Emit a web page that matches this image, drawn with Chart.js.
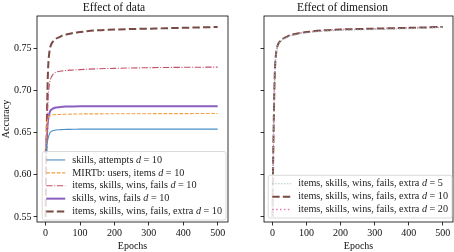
<!DOCTYPE html>
<html><head><meta charset="utf-8">
<script src="https://cdn.jsdelivr.net/npm/chart.js@4.4.1/dist/chart.umd.min.js"></script>
<style>
html,body{margin:0;padding:0;background:#fff;width:454px;height:252px;overflow:hidden}
canvas{position:absolute;top:0}
#c1{left:0}
#c2{left:232px}
</style></head><body>
<canvas id="c1" width="232" height="252"></canvas>
<canvas id="c2" width="222" height="252"></canvas>
<script>
// ---- data ----
const epochs = [0,2,4,6,8,10,13,16,20,25,30,40,50,60,80,100,150,200,300,400,500];
const skillsAttempts = [0.625,0.630,0.636,0.641,0.644,0.647,0.650,0.651,0.652,0.6525,0.653,0.6533,0.6535,0.6537,0.6538,0.654,0.654,0.654,0.654,0.654,0.654];
const mirtb = [0.630,0.645,0.658,0.665,0.668,0.6695,0.670,0.6705,0.671,0.6711,0.6712,0.6714,0.6715,0.6716,0.6718,0.672,0.6721,0.6722,0.6723,0.6724,0.6725];
const itemsSkillsWinsFails = [0.600,0.630,0.660,0.680,0.695,0.704,0.711,0.715,0.718,0.720,0.7215,0.7225,0.723,0.7235,0.724,0.7245,0.7255,0.726,0.7268,0.7272,0.7275];
const skillsWinsFails = [0.625,0.635,0.648,0.660,0.667,0.671,0.675,0.677,0.678,0.679,0.6795,0.680,0.6805,0.6807,0.6809,0.681,0.681,0.681,0.681,0.681,0.681];
const extraD10 = [0.550,0.620,0.670,0.710,0.732,0.742,0.750,0.754,0.757,0.759,0.761,0.763,0.765,0.766,0.768,0.769,0.771,0.772,0.773,0.774,0.775];
const extraD5 = [0.550,0.618,0.668,0.709,0.731,0.741,0.749,0.753,0.756,0.758,0.760,0.762,0.764,0.765,0.767,0.768,0.770,0.771,0.772,0.773,0.7745];
const extraD20 = [0.550,0.621,0.671,0.711,0.732,0.742,0.750,0.754,0.757,0.759,0.761,0.763,0.765,0.766,0.768,0.769,0.771,0.772,0.773,0.774,0.775];
const yTicks = [0.55,0.60,0.65,0.70,0.75];
const xTicks = [0,100,200,300,400,500];
const leftLabels = ['skills, attempts','MIRTb: users, items','items, skills, wins, fails','skills, wins, fails','items, skills, wins, fails, extra'];
const leftDims = [10,10,10,10,10];
const rightLabels = ['items, skills, wins, fails, extra','items, skills, wins, fails, extra','items, skills, wins, fails, extra'];
const rightDims = [5,10,20];
const titles = ['Effect of data','Effect of dimension'];

const FONT = "'Liberation Serif', 'DejaVu Serif', serif";

function pts(ys){ return epochs.map((x,i)=>({x:x,y:ys[i]})); }

const framePlugin = {
  id:'frame',
  afterDatasetsDraw(chart){
    const a = chart.chartArea, ctx = chart.ctx;
    ctx.save();
    ctx.strokeStyle = '#000'; ctx.lineWidth = 0.8;
    ctx.strokeRect(a.left, a.top, a.right-a.left, a.bottom-a.top);
    ctx.restore();
  }
};

const boxLegend = {
  id:'boxLegend',
  afterDraw(chart, args, opts){
    const ctx = chart.ctx, a = chart.chartArea;
    const ds = chart.data.datasets;
    const fs = opts.fontSize, rowH = opts.rowH, handle = opts.handle;
    ctx.save();
    const normal = fs + 'px ' + FONT, ital = 'italic ' + fs + 'px ' + FONT;
    let maxW = 0;
    const parts = ds.map((d,i)=>{
      ctx.font = normal; const w1 = ctx.measureText(opts.labels[i] + ' ').width;
      ctx.font = ital; const w2 = ctx.measureText('d').width;
      ctx.font = normal; const w3 = ctx.measureText(' = ' + opts.dims[i]).width;
      maxW = Math.max(maxW, w1+w2+w3);
      return [w1,w2,w3];
    });
    const padX = 4, gap = 7;
    const w = padX + handle + gap + maxW + padX;
    const h = rowH * ds.length + 4;
    const x0 = a.right - opts.offR - w, y0 = a.bottom - opts.offB - h;
    ctx.beginPath();
    if (ctx.roundRect) ctx.roundRect(x0, y0, w, h, 2); else ctx.rect(x0,y0,w,h);
    ctx.fillStyle = 'rgba(255,255,255,0.8)'; ctx.fill();
    ctx.strokeStyle = '#d0d0d0'; ctx.lineWidth = 0.8; ctx.stroke();
    ds.forEach((d,i)=>{
      const cy = y0 + 2 + rowH*(i+0.5);
      ctx.save();
      ctx.strokeStyle = d.borderColor; ctx.lineWidth = d.borderWidth;
      ctx.setLineDash(d.borderDash || []);
      ctx.beginPath(); ctx.moveTo(x0+padX, cy); ctx.lineTo(x0+padX+handle, cy); ctx.stroke();
      ctx.restore();
      let tx = x0 + padX + handle + gap;
      ctx.fillStyle = '#222'; ctx.textBaseline = 'middle'; ctx.textAlign = 'left';
      ctx.font = normal; ctx.fillText(opts.labels[i] + ' ', tx, cy);
      tx += parts[i][0];
      ctx.font = ital; ctx.fillText('d', tx, cy);
      tx += parts[i][1];
      ctx.font = normal; ctx.fillText(' = ' + opts.dims[i], tx, cy);
    });
    ctx.restore();
  }
};

function makeOptions(idx, yW, showYLabels, legendOpts){
  return {
    responsive:false, animation:false, devicePixelRatio:1,
    layout:{padding:{left:0,right: idx===0?4:1,top:0,bottom:0}},
    plugins:{
      legend:{display:false}, tooltip:{enabled:false},
      title:{display:true, text:titles[idx], color:'#111', font:{family:FONT,size:11.5,weight:'normal',lineHeight:1.2}, padding:{top:1,bottom:1.2}},
      boxLegend: legendOpts
    },
    elements:{point:{radius:0}, line:{tension:0.3, cubicInterpolationMode:'monotone'}},
    scales:{
      x:{type:'linear', min:-25, max:530,
         afterBuildTicks(s){ s.ticks = xTicks.map(v=>({value:v})); },
         afterFit(s){ s.height = 30; },
         grid:{display:true, drawOnChartArea:false, drawTicks:true, tickLength:3.5, color:'#000', lineWidth:0.8},
         border:{display:false},
         ticks:{color:'#111', font:{family:FONT,size:10}, padding:2, maxRotation:0, callback:v=>String(v)},
         title:{display:true, text:'Epochs', color:'#111', font:{family:FONT,size:10}, padding:{top:0,bottom:0}}
      },
      y:{type:'linear', min:0.544, max:0.788,
         afterBuildTicks(s){ s.ticks = yTicks.map(v=>({value:v})); },
         afterFit(s){ s.width = yW; },
         grid:{display:true, drawOnChartArea:false, drawTicks:true, tickLength:3.5, color:'#000', lineWidth:0.8},
         border:{display:false},
         ticks:{color:'#111', font:{family:FONT,size:10}, padding:2, callback:v=> showYLabels ? v.toFixed(2) : ''},
         title:{display:showYLabels, text:'Accuracy', color:'#111', font:{family:FONT,size:10}, padding:{top:0,bottom:0}}
      }
    }
  };
}

new Chart(document.getElementById('c1'), {
  type:'line',
  data:{datasets:[
    {data:pts(skillsAttempts), borderColor:'#4a8fc9', borderWidth:1.1, borderDash:[]},
    {data:pts(mirtb), borderColor:'#f5a040', borderWidth:1.1, borderDash:[3.7,1.6]},
    {data:pts(itemsSkillsWinsFails), borderColor:'#c4506c', borderWidth:1.1, borderDash:[6.4,1.6,1,1.6]},
    {data:pts(skillsWinsFails), borderColor:'#8a5fc0', borderWidth:2, borderDash:[]},
    {data:pts(extraD10), borderColor:'#7a4a45', borderWidth:2, borderDash:[7.4,3.2]}
  ]},
  options:makeOptions(0, 37, true, {labels:leftLabels, dims:leftDims, fontSize:10.2, rowH:12.9, handle:19, offR:2, offB:2}),
  plugins:[framePlugin, boxLegend]
});

new Chart(document.getElementById('c2'), {
  type:'line',
  data:{datasets:[
    {data:pts(extraD5), borderColor:'#9fb8b8', borderWidth:1.2, borderDash:[1.2,1.8]},
    {data:pts(extraD10), borderColor:'#7a4a45', borderWidth:2, borderDash:[7.4,3.2]},
    {data:pts(extraD20), borderColor:'#e07ab8', borderWidth:1.5, borderDash:[1.5,2.4]}
  ]},
  options:makeOptions(1, 32, false, {labels:rightLabels, dims:rightDims, fontSize:10.2, rowH:12.9, handle:19, offR:1, offB:4}),
  plugins:[framePlugin, boxLegend]
});
</script>
</body></html>
